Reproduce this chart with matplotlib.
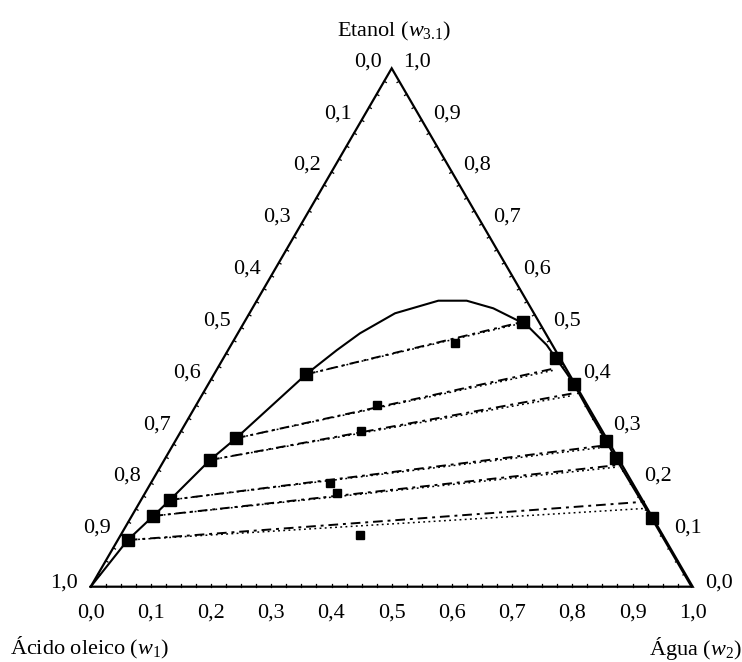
import numpy as np
import matplotlib
matplotlib.use("Agg")
import matplotlib.pyplot as plt
from matplotlib.transforms import offset_copy

plt.rcParams['font.family'] = ['Liberation Serif', 'DejaVu Serif']
plt.rcParams['mathtext.fontset'] = 'custom'
plt.rcParams['mathtext.rm'] = 'Liberation Serif'
plt.rcParams['mathtext.it'] = 'Liberation Serif:italic'

# ---------------- data (mass fractions: w2 = water, w3 = ethanol) ----------------
# binodal curve
binodal_w2 = [0.0, 0.0165, 0.0358, 0.048, 0.076, 0.0982, 0.1529, 0.1806, 0.2029,
              0.2418, 0.3016, 0.3487, 0.4003, 0.4504, 0.463, 0.5244, 0.5526,
              0.5848, 0.6076, 0.6622, 0.7152, 0.7482, 0.866, 0.998]
binodal_w3 = [0.0, 0.09, 0.1364, 0.1674, 0.2444, 0.2863, 0.4095, 0.4562, 0.4888,
              0.5274, 0.5517, 0.5517, 0.537, 0.5145, 0.5112, 0.4662, 0.4406,
              0.4117, 0.3904, 0.3345, 0.2816, 0.2477, 0.1319, 0.0]

# experimental tie-line ends: oleic-rich phase
oil_w2 = [0.1529, 0.0982, 0.076, 0.048, 0.0358, 0.0165]
oil_w3 = [0.4095, 0.2863, 0.2444, 0.1674, 0.1364, 0.09]
# experimental tie-line ends: aqueous phase
aq_w2 = [0.463, 0.5526, 0.6076, 0.7152, 0.7482, 0.866]
aq_w3 = [0.5112, 0.4406, 0.3904, 0.2816, 0.2477, 0.1319]
# overall (feed) compositions
feed_w2 = [0.3698, 0.2998, 0.2986, 0.2972, 0.3195, 0.3975]
feed_w3 = [0.4707, 0.3505, 0.3009, 0.2006, 0.1802, 0.0997]

# calculated tie lines, model A (dash-dot) aqueous ends
calcA_w2 = [0.463, 0.5606, 0.6151, 0.7103, 0.759, 0.8387]
calcA_w3 = [0.5112, 0.4213, 0.3731, 0.2714, 0.2348, 0.164]
# calculated tie lines, model B (dotted) aqueous ends
calcB_w2 = [0.461, 0.562, 0.617, 0.712, 0.761, 0.848]
calcB_w3 = [0.508, 0.418, 0.369, 0.268, 0.231, 0.1512]

tick_values = [0.0, 0.1, 0.2, 0.3, 0.4, 0.5, 0.6, 0.7, 0.8, 0.9, 1.0]
tick_labels = ['0,0', '0,1', '0,2', '0,3', '0,4', '0,5', '0,6', '0,7', '0,8', '0,9', '1,0']

# ---------------- figure ----------------
PX = 602.0              # pixels per unit (triangle side)
H = 518.4 / PX          # triangle height ratio
X0, Y0 = 90.7, 586.7    # pixel position of the oleic acid vertex

fig = plt.figure(figsize=(7.42, 6.62), dpi=100)
ax = fig.add_axes([0, 0, 1, 1])
ax.set_xlim(-X0 / PX, (742 - X0) / PX)
ax.set_ylim(-(662 - Y0) / PX, Y0 / PX)
ax.axis('off')


def xy(w2, w3):
    w2 = np.asarray(w2, dtype=float)
    w3 = np.asarray(w3, dtype=float)
    return w2 + w3 / 2.0, w3 * H


# triangle
tx, ty = xy([0, 1, 0, 0], [0, 0, 1, 0])
ax.plot(tx, ty, color='black', lw=1.6, solid_joinstyle='miter', zorder=2)

# minor ticks (inward dots)
minor = np.arange(0.025, 1.0, 0.025)
L = 2.5 / PX
for t in minor:
    bx, by = xy(t, 0)
    ax.plot([bx, bx], [by, by + L], color='black', lw=0.9)
    lx, ly = xy(0, t)
    ax.plot([lx, lx + L * 0.866], [ly, ly - L * 0.5], color='black', lw=0.9)
    rx, ry = xy(1 - t, t)
    ax.plot([rx, rx - L * 0.866], [ry, ry - L * 0.5], color='black', lw=0.9)

# tick labels
fs = 16
for v, lab in zip(tick_values, tick_labels):
    bx, by = xy(v, 0)
    tr = offset_copy(ax.transData, fig=fig, x=0, y=-26, units='dots')
    ax.text(bx, by, lab, transform=tr, ha='center', va='center', fontsize=fs)
    lx, ly = xy(0, 1 - v)
    dx, dy = (-24, 6.5) if v < 0.95 else (-27, 3.7)
    tr = offset_copy(ax.transData, fig=fig, x=dx, y=dy, units='dots')
    ax.text(lx, ly, lab, transform=tr, ha='center', va='center', fontsize=fs)
    rx, ry = xy(1 - v, v)
    dx, dy = (25, 6.5) if v > 0.05 else (26, 3.7)
    tr = offset_copy(ax.transData, fig=fig, x=dx, y=dy, units='dots')
    ax.text(rx, ry, lab, transform=tr, ha='center', va='center', fontsize=fs)

# axis titles
ax.text((394 - X0) / PX, (Y0 - 36) / PX, r'Etanol ($\mathit{w_{3.1}}$)',
        ha='center', va='baseline', fontsize=fs)
ax.text((89 - X0) / PX, (Y0 - 654) / PX, r'Ácido oleico ($\mathit{w_{1}}$)',
        ha='center', va='baseline', fontsize=fs)
ax.text((695 - X0) / PX, (Y0 - 655) / PX, r'Água ($\mathit{w_{2}}$)',
        ha='center', va='baseline', fontsize=fs)

# binodal curve
bx, by = xy(binodal_w2, binodal_w3)
ax.plot(bx, by, color='black', lw=1.5, zorder=3)

# calculated tie lines
for i in range(len(oil_w2)):
    ax_, ay_ = xy([oil_w2[i], calcA_w2[i]], [oil_w3[i], calcA_w3[i]])
    ax.plot(ax_, ay_, color='black', lw=1.4, dashes=(5, 2.5, 1.5, 2.5), zorder=3)
    bx_, by_ = xy([oil_w2[i], calcB_w2[i]], [oil_w3[i], calcB_w3[i]])
    ax.plot(bx_, by_, color='black', lw=1.1, dashes=(1.2, 2.2), zorder=3)

# experimental points
ox, oy = xy(oil_w2, oil_w3)
ax.plot(ox, oy, 's', color='black', ms=8, zorder=5)
qx, qy = xy(aq_w2, aq_w3)
ax.plot(qx, qy, 's', color='black', ms=8, zorder=5)
fx, fy = xy(feed_w2, feed_w3)
ax.plot(fx, fy, 's', color='black', ms=6, zorder=5)

fig.savefig('out.png', dpi=100)
